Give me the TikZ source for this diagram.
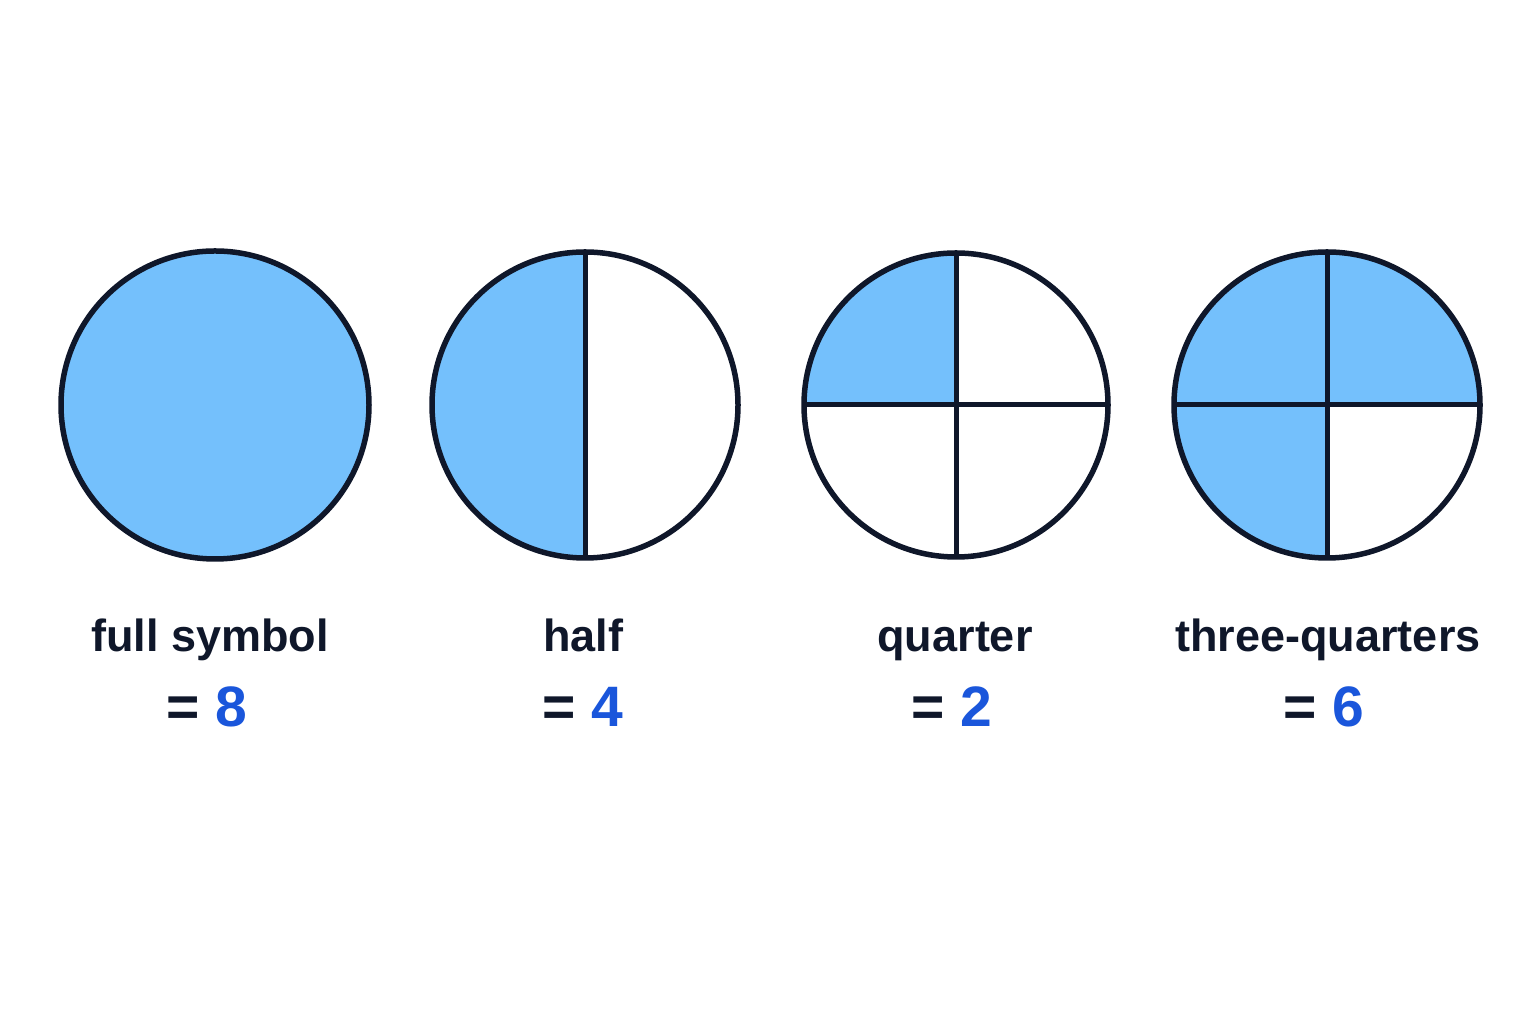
\documentclass[tikz,border=0pt]{standalone}
\usepackage{fontspec}
\setmainfont{Liberation Sans}
\usetikzlibrary{calc}
\definecolor{ink}{HTML}{0F172A}
\definecolor{fillblue}{HTML}{74C0FC}
\definecolor{numblue}{HTML}{1A56DB}
\begin{document}
\begin{tikzpicture}[x=1pt,y=1pt,
  ring/.style={draw=ink,line width=5.5pt},
  divider/.style={draw=ink,line width=5pt},
  part/.style={fill=fillblue,draw=none},
  lab/.style={anchor=base,text=ink,font=\fontsize{45}{54}\selectfont\bfseries},
  val/.style={anchor=base,text=ink,font=\fontsize{57}{66}\selectfont\bfseries}]
\useasboundingbox[fill=white] (0,0) rectangle (1536,1024);
% circle 1: full
\coordinate (c1) at (215,619);
\fill[fillblue] (c1) circle (154);
\draw[ring] (c1) circle (154);
% circle 2: half
\coordinate (c2) at (585,619);
\fill[part] (c2) -- ++(90:153) arc (90:270:153) -- cycle;
\draw[divider] ($(c2)+(0,153)$) -- ($(c2)+(0,-153)$);
\draw[ring] (c2) circle (153);
% circle 3: quarter
\coordinate (c3) at (956,619);
\fill[part] (c3) -- ++(90:152) arc (90:180:152) -- cycle;
\draw[divider] ($(c3)+(0,152)$) -- ($(c3)+(0,-152)$);
\draw[divider] ($(c3)+(-152,0)$) -- ($(c3)+(152,0)$);
\draw[ring] (c3) circle (152);
% circle 4: three-quarters
\coordinate (c4) at (1327,619);
\fill[part] (c4) -- ++(0:153) arc (0:270:153) -- cycle;
\draw[divider] ($(c4)+(0,153)$) -- ($(c4)+(0,-153)$);
\draw[divider] ($(c4)+(-153,0)$) -- ($(c4)+(153,0)$);
\draw[ring] (c4) circle (153);
% labels
\node[lab] (l1) at (210,372) {full symbol};
\node[lab] (l2) at (583,372) {half};
\node[lab] (l3) at (955,372) {quarter};
\node[lab] (l4) at (1328,372) {three-quarters};
\node[val] (v1) at (207,297) {= \textcolor{numblue}{8}};
\node[val] (v2) at (583,297) {= \textcolor{numblue}{4}};
\node[val] (v3) at (952,297) {= \textcolor{numblue}{2}};
\node[val] (v4) at (1324,297) {= \textcolor{numblue}{6}};
\end{tikzpicture}
\end{document}
